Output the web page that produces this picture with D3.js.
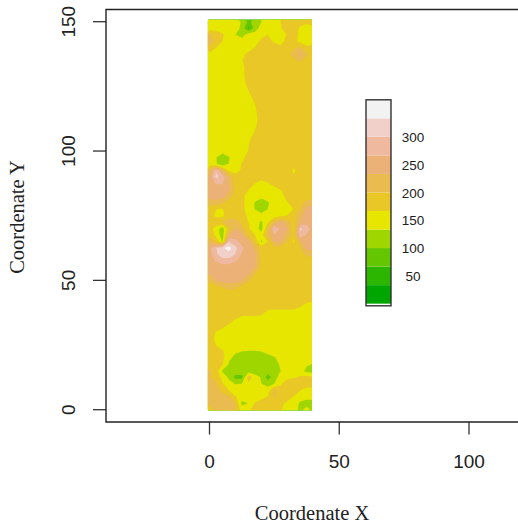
<!DOCTYPE html>
<html>
<head>
<meta charset="utf-8">
<script src="https://cdn.jsdelivr.net/npm/d3@7"></script>
<style>
  body { margin: 0; background: #fff; }
  svg { display: block; }
</style>
</head>
<body>
<div id="vis"></div>
<script>
const levels = [0, 33.5, 67, 100.5, 134, 167.5, 201, 234.5, 268, 301.5, 335, 368.5];
const bandColors = ['#00A600', '#2DB600', '#63C600', '#A0D600', '#E6E600', '#E8C727', '#EABB4E', '#ECB176', '#EEB99F', '#F0D0C8', '#F2F2F2'];
const legendTicks = [50, 100, 150, 200, 250, 300];
const xTicks = [0, 50, 100];
const yTicks = [0, 50, 100, 150];

// sampling of the surface, columns are x = 0, 2.5 ... 40
const gridStep = 2.5;
const gridTop = 150;

// rows run from y = 150 down to y = 0
const zRows = [
  [150,150,150,150,150,130,95,110,134,150,150,168,185,185,185,185,185],
  [150,150,150,150,150,125,60,115,150,155,135,165,185,185,160,135,160],
  [205,190,172,150,134,120,150,150,160,168,150,150,170,180,160,150,165],
  [235,185,168,150,150,150,150,158,172,185,155,155,180,180,155,140,160],
  [190,168,150,150,150,140,150,168,185,190,205,175,185,195,205,178,172],
  [160,150,150,150,150,160,175,185,185,185,190,185,190,215,245,205,185],
  [150,150,150,150,150,165,185,185,185,185,185,185,185,195,205,190,185],
  [150,150,150,150,150,157,185,185,185,185,185,185,185,185,185,185,185],
  [150,150,150,150,150,157,185,185,185,185,185,185,185,185,185,185,185],
  [150,150,150,150,150,153,185,185,185,185,185,185,185,185,185,185,185],
  [150,150,150,150,150,150,174,185,185,185,185,185,185,185,185,185,185],
  [150,150,150,150,150,150,164,185,185,185,185,185,185,185,185,185,185],
  [150,150,150,150,150,150,150,176,185,185,185,185,185,185,185,185,185],
  [150,150,150,150,150,150,150,166,185,185,185,185,185,185,185,185,185],
  [150,150,150,150,150,150,150,161,185,185,185,185,185,185,185,185,185],
  [150,150,150,150,150,150,150,155,185,185,185,185,185,185,185,185,185],
  [150,150,150,150,150,150,150,161,185,185,185,185,185,185,185,185,185],
  [150,150,150,150,150,150,150,169,185,185,185,185,185,185,185,185,185],
  [150,150,150,150,150,150,155,185,185,185,185,185,185,185,185,185,185],
  [150,150,150,150,150,150,166,185,185,185,185,185,185,185,185,185,185],
  [150,150,150,150,150,150,169,185,185,185,185,185,185,185,185,185,185],
  [150,136,108,132,150,155,185,185,185,185,185,185,185,185,185,185,185],
  [150,138,110,136,150,170,185,185,190,185,185,185,185,175,185,185,185],
  [215,300,220,160,155,172,185,185,200,178,185,185,185,162,185,185,185],
  [240,310,290,225,185,185,185,185,185,185,185,185,185,170,185,185,185],
  [250,270,270,235,185,185,185,168,150,165,185,185,185,185,185,185,185],
  [250,255,255,240,190,185,168,150,150,150,150,167,185,185,185,185,185],
  [250,250,250,215,185,178,150,150,150,150,150,155,180,185,185,185,185],
  [215,220,205,185,185,178,150,132,105,130,150,150,165,185,185,215,210],
  [185,168,165,185,185,178,150,133,110,135,150,150,150,168,205,250,250],
  [185,160,160,185,185,185,160,150,150,150,150,158,170,185,225,255,255],
  [185,190,200,225,215,190,167,150,128,165,215,250,215,185,240,260,255],
  [185,150,118,190,240,215,172,150,122,200,300,265,240,165,310,280,255],
  [190,160,115,235,250,245,195,168,150,220,260,255,225,185,290,265,255],
  [225,190,130,300,280,255,245,190,128,170,240,240,200,160,230,255,250],
  [255,300,330,350,310,275,250,230,185,185,190,185,185,185,200,250,250],
  [255,295,320,320,300,265,250,240,190,185,185,185,185,185,185,210,205],
  [250,270,285,285,270,255,250,240,195,185,185,185,185,185,185,185,185],
  [245,250,252,252,250,250,250,235,190,185,185,185,185,185,185,185,185],
  [235,250,250,250,250,250,240,200,185,185,185,185,185,185,185,185,185],
  [205,240,250,250,250,240,205,185,185,185,185,185,185,185,185,185,185],
  [185,190,205,215,210,190,185,185,185,185,185,185,185,185,185,185,185],
  [185,185,185,185,185,185,185,185,185,185,185,185,185,185,185,185,185],
  [185,185,185,185,185,185,185,185,185,185,185,185,185,185,185,185,172],
  [185,185,185,185,185,185,185,185,185,185,185,185,185,185,170,150,150],
  [185,185,185,185,185,185,185,185,178,155,150,150,150,150,150,150,150],
  [185,185,185,185,168,150,150,150,150,150,150,150,150,150,150,150,150],
  [185,185,180,160,150,150,150,150,150,150,150,150,150,150,150,150,150],
  [185,166,150,150,150,150,150,150,150,150,150,150,150,150,150,150,150],
  [185,158,150,150,150,150,150,150,150,150,150,150,150,150,150,150,150],
  [185,167,150,150,150,150,150,150,150,150,150,150,150,150,150,150,150],
  [185,185,172,150,138,134,132,132,134,145,150,150,150,150,150,150,150],
  [185,185,175,140,125,118,118,118,118,118,130,150,150,150,150,150,150],
  [190,185,170,130,118,118,118,118,118,118,118,140,150,150,150,140,130],
  [205,185,128,118,115,115,115,115,115,115,115,135,150,150,150,122,115],
  [205,185,160,125,92,90,190,150,130,85,120,150,160,165,172,180,175],
  [215,205,170,150,132,135,160,150,134,120,134,165,185,185,185,185,190],
  [215,215,190,167,150,150,150,150,150,150,210,175,185,185,168,155,150],
  [215,215,215,205,170,150,150,150,155,170,205,185,185,165,150,150,150],
  [215,215,215,215,200,125,135,170,185,185,185,175,160,150,128,115,115],
  [175,215,215,215,205,150,160,180,185,185,185,170,150,150,125,150,120]
];

let width = 518,
  height = 528;

let svg = d3.select('#vis')
  .append('svg')
  .attr('width', width)
  .attr('height', height);

let x = d3.scaleLinear().domain([0, 100]).range([209.5, 469]);
let y = d3.scaleLinear().domain([0, 150]).range([409.7, 21.7]);

// plot box, runs off the right edge like the original
let box = { left: 106, top: 9.5, bottom: 422, right: 530 };

// the field stops slightly outside the sampled rows
let fieldX = [-0.6, 39.5];
let fieldY = [-0.2, 150.8];

svg.append('clipPath')
  .attr('id', 'field')
  .append('rect')
  .attr('x', x(fieldX[0]))
  .attr('y', y(fieldY[1]))
  .attr('width', x(fieldX[1]) - x(fieldX[0]))
  .attr('height', y(fieldY[0]) - y(fieldY[1]));

let nx = zRows[0].length,
  ny = zRows.length;

let contours = d3.contours()
  .size([nx, ny])
  .thresholds(levels.slice(0, -1))(zRows.flat());

// contour coordinates are in grid cells, go through the data scales
let project = d3.geoTransform({
  point: function(u, v) {
    this.stream.point(x((u - 0.5) * gridStep), y(gridTop - (v - 0.5) * gridStep));
  }
});

// soft edge, the original image is a little blurred
svg.append('g')
  .style('filter', 'blur(0.6px)')
  .append('g')
  .attr('clip-path', 'url(#field)')
  .selectAll('path')
  .data(contours)
  .join('path')
  .attr('d', d3.geoPath(project))
  .attr('fill', (d, i) => bandColors[i]);

// axes
let xAxis = svg.append('g')
  .attr('transform', `translate(0,${box.bottom})`)
  .call(d3.axisBottom(x).tickValues(xTicks).tickSize(12.5).tickPadding(20).tickFormat(d3.format('d')).offset(0));

let yAxis = svg.append('g')
  .attr('transform', `translate(${box.left},0)`)
  .call(d3.axisLeft(y).tickValues(yTicks).tickSize(13).tickFormat(d3.format('d')).offset(0));

yAxis.selectAll('text')
  .attr('transform', 'rotate(-90)')
  .attr('x', 0)
  .attr('y', -31)
  .attr('dy', 0)
  .attr('text-anchor', 'middle');

[xAxis, yAxis].forEach(a => {
  a.select('.domain').remove();
  a.selectAll('line').attr('stroke', '#333').attr('stroke-width', 1.3);
  a.selectAll('text')
    .attr('fill', '#222')
    .style('font-family', '"Liberation Sans", Arial, sans-serif')
    .style('font-size', '19px');
});

svg.append('path')
  .attr('d', `M${box.right},${box.top}H${box.left}V${box.bottom}H${box.right}`)
  .attr('fill', 'none')
  .attr('stroke', '#222')
  .attr('stroke-width', 1.4);

// axis titles
svg.append('text')
  .attr('x', 312)
  .attr('y', 520)
  .attr('text-anchor', 'middle')
  .style('font-family', '"Liberation Serif", "Times New Roman", serif')
  .style('font-size', '20.5px')
  .attr('fill', '#222')
  .text('Coordenate X');

svg.append('text')
  .attr('transform', 'translate(24,217) rotate(-90)')
  .attr('text-anchor', 'middle')
  .style('font-family', '"Liberation Serif", "Times New Roman", serif')
  .style('font-size', '20.5px')
  .attr('fill', '#222')
  .text('Coordenate Y');

// legend
let legendY = d3.scaleLinear().domain([50, 300]).range([276, 137.7]);
let legend = svg.append('g');

legend.selectAll('rect')
  .data(bandColors)
  .join('rect')
  .attr('x', 366)
  .attr('width', 25)
  .attr('y', (d, i) => legendY(levels[i + 1]))
  .attr('height', (d, i) => legendY(levels[i]) - legendY(levels[i + 1]))
  .attr('fill', d => d);

legend.append('rect')
  .attr('x', 366)
  .attr('y', legendY(levels[levels.length - 1]))
  .attr('width', 25)
  .attr('height', 206)
  .attr('fill', 'none')
  .attr('stroke', '#333')
  .attr('stroke-width', 1.4);

legend.selectAll('text')
  .data(legendTicks)
  .join('text')
  .attr('x', 413)
  .attr('y', d => legendY(d))
  .attr('dy', '0.35em')
  .attr('text-anchor', 'middle')
  .attr('fill', '#222')
  .style('font-family', '"Liberation Sans", Arial, sans-serif')
  .style('font-size', '13.5px')
  .text(d => d);
</script>
</body>
</html>
